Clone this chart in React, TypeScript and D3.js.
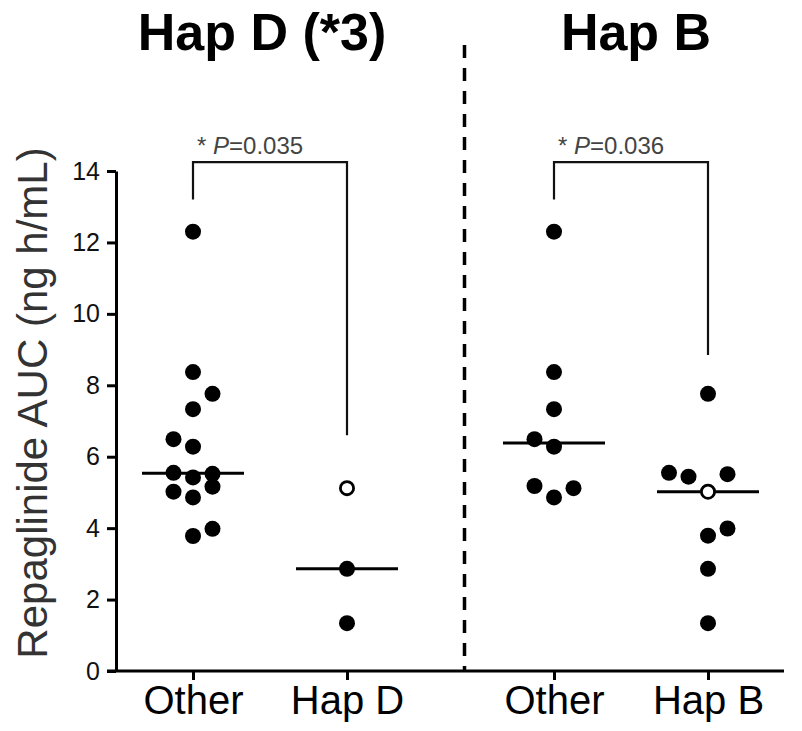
import { useEffect, useRef } from 'react';
import * as d3 from 'd3';

// Repaglinide AUC (ng h/mL)
const yTicks = [0, 2, 4, 6, 8, 10, 12, 14];

const hapDOtros = [12.3, 8.37, 7.76, 7.33, 6.49, 6.28, 5.55, 5.52, 5.42, 5.16, 5.02, 4.86, 3.98, 3.78];
const hapDOtrosCarril = [0, 0, 1, 0, -1, 0, -1, 1, 0, 1, -1, 0, 1, 0];
const hapDPortadores = [5.12, 2.86, 1.34];
const hapDPortadoresCarril = [0, 0, 0];
const hapDPortadoresAbierto = [true, false, false];

const hapBOtros = [12.3, 8.37, 7.33, 6.49, 6.28, 5.18, 5.12, 4.86];
const hapBOtrosCarril = [0, 0, 0, -1, 0, -1, 1, 0];
const hapBPortadores = [7.76, 5.55, 5.44, 5.51, 5.02, 3.99, 3.79, 2.86, 1.34];
const hapBPortadoresCarril = [0, -2, -1, 1, 0, 1, 0, 0, 0];
const hapBPortadoresAbierto = [false, false, false, false, true, false, false, false, false];

const titulos = ['Hap D (*3)', 'Hap B'];
const categorias = [['Other', 'Hap D'], ['Other', 'Hap B']];
const pValores = ['0.035', '0.036'];
// corchetes: [altura de la barra, extremo izquierdo, extremo derecho]
const corchetes = [[14.25, 13.2, 6.6], [14.25, 13.2, 8.85]];

const FONT = '"Liberation Sans", Arial, Helvetica, sans-serif';

export default function App() {
  const ref = useRef<SVGSVGElement>(null);

  useEffect(() => {
    const width = 802;
    const height = 731;
    const svg = d3.select(ref.current);
    svg.selectAll('*').remove();
    svg.attr('width', width).attr('height', height);

    const y = d3.scaleLinear().domain([0, 14]).range([671, 171]);
    const ejeX = 116;
    const divisor = 464.5;
    const rangosPanel: [number, number][] = [[193, 347], [554, 708]];
    const titulosX = [262, 636];
    const paso = 19.5;
    const radio = 8;

    const grupos = [
      [
        { v: hapDOtros, c: hapDOtrosCarril, a: hapDOtros.map(() => false) },
        { v: hapDPortadores, c: hapDPortadoresCarril, a: hapDPortadoresAbierto },
      ],
      [
        { v: hapBOtros, c: hapBOtrosCarril, a: hapBOtros.map(() => false) },
        { v: hapBPortadores, c: hapBPortadoresCarril, a: hapBPortadoresAbierto },
      ],
    ];

    // Eje Y
    svg.append('g')
      .attr('transform', `translate(${ejeX},0)`)
      .call(d3.axisLeft(y).tickValues(yTicks).tickSize(9).tickSizeOuter(0).tickPadding(7))
      .call(g => g.select('.domain').attr('stroke', '#000').attr('stroke-width', 3))
      .call(g => g.selectAll('.tick line').attr('stroke', '#000').attr('stroke-width', 3))
      .selectAll('text')
      .attr('font-family', FONT)
      .attr('font-size', 25)
      .attr('fill', '#111');

    // Etiqueta eje Y
    svg.append('text')
      .attr('transform', `translate(47,${(y(0) + y(14)) / 2 - 18}) rotate(-90)`)
      .attr('text-anchor', 'middle')
      .attr('font-family', FONT)
      .attr('font-size', 42)
      .attr('fill', '#333')
      .text('Repaglinide AUC (ng h/mL)');

    // Línea base del eje X
    svg.append('line')
      .attr('x1', ejeX - 9)
      .attr('x2', 784)
      .attr('y1', y(0))
      .attr('y2', y(0))
      .attr('stroke', '#000')
      .attr('stroke-width', 3);

    // Separador punteado
    svg.append('line')
      .attr('x1', divisor)
      .attr('x2', divisor)
      .attr('y1', 45)
      .attr('y2', y(0))
      .attr('stroke', '#000')
      .attr('stroke-width', 3.5)
      .attr('stroke-dasharray', '13 10');

    grupos.forEach((panel, p) => {
      const x = d3.scalePoint<string>().domain(categorias[p]).range(rangosPanel[p]);

      // Eje X del panel
      svg.append('g')
        .attr('transform', `translate(0,${y(0)})`)
        .call(d3.axisBottom(x).tickSize(9).tickPadding(6))
        .call(g => g.select('.domain').remove())
        .call(g => g.selectAll('.tick line').attr('stroke', '#000').attr('stroke-width', 3))
        .selectAll('text')
        .attr('font-family', FONT)
        .attr('font-size', 40)
        .attr('fill', '#000');

      // Título
      svg.append('text')
        .attr('x', titulosX[p])
        .attr('y', 50)
        .attr('text-anchor', 'middle')
        .attr('font-family', FONT)
        .attr('font-weight', 700)
        .attr('font-size', 52)
        .attr('fill', '#000')
        .text(titulos[p]);

      panel.forEach((grupo, i) => {
        const cx = x(categorias[p][i])!;
        // Mediana
        const med = d3.median(grupo.v)!;
        svg.append('line')
          .attr('x1', cx - 51)
          .attr('x2', cx + 51)
          .attr('y1', y(med))
          .attr('y2', y(med))
          .attr('stroke', '#000')
          .attr('stroke-width', 3);
        // Puntos
        grupo.v.forEach((v, k) => {
          const abierto = grupo.a[k];
          svg.append('circle')
            .attr('cx', cx + grupo.c[k] * paso)
            .attr('cy', y(v))
            .attr('r', abierto ? radio - 1.4 : radio)
            .attr('fill', abierto ? '#fff' : '#000')
            .attr('stroke', '#000')
            .attr('stroke-width', abierto ? 2.8 : 0);
        });
      });

      // Corchete de significancia
      const [top, izq, der] = corchetes[p];
      const x0 = x(categorias[p][0])!;
      const x1 = x(categorias[p][1])!;
      svg.append('path')
        .attr('d', d3.line()([[x0, y(izq)], [x0, y(top)], [x1, y(top)], [x1, y(der)]]))
        .attr('fill', 'none')
        .attr('stroke', '#111')
        .attr('stroke-width', 2.2);

      const t = svg.append('text')
        .attr('x', x0 + 4)
        .attr('y', y(top) - 8)
        .attr('font-family', FONT)
        .attr('font-size', 24)
        .attr('fill', '#444');
      t.append('tspan').text('* ');
      t.append('tspan').attr('font-style', 'italic').text('P');
      t.append('tspan').text('=' + pValores[p]);
    });
  }, []);

  return <svg ref={ref} style={{ position: 'absolute', left: 0, top: 0 }} />;
}
